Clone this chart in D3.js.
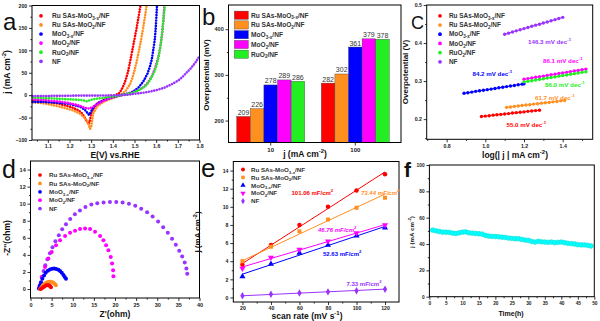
<!DOCTYPE html>
<html><head><meta charset="utf-8">
<script src="https://cdn.jsdelivr.net/npm/d3@7"></script>
<style>body{margin:0;background:#fff;} svg{display:block;font-family:Arial,"Liberation Sans",sans-serif;}</style>
</head><body><svg id="chart" width="600" height="321"></svg>
<script>
// ---------------- DATA ----------------
const names6 = ["Ru SAs-MoO_{3-x}/NF","Ru SAs-MoO_{2}/NF","MoO_{3-x}/NF","MoO_{2}/NF","RuO_{2}/NF","NF"];
const names5 = ["Ru SAs-MoO_{3-x}/NF","Ru SAs-MoO_{2}/NF","MoO_{3-x}/NF","MoO_{2}/NF","NF"];
const colors6 = ["#ff0000","#ff8f1f","#0000ff","#ff00ff","#22ee22","#9933ff"];
const colors5 = ["#ff0000","#ff8f1f","#0000ff","#ff00ff","#9933ff"];

// (a) LSV curves [E vs RHE, j]
const aRed = [[1.03,-12],[1.06,-13],[1.09,-15],[1.12,-17],[1.15,-19],[1.18,-23],[1.21,-27],[1.23,-31],[1.25,-37],[1.26,-42],[1.27,-50],[1.28,-58],[1.29,-64],[1.295,-55],[1.30,-42],[1.31,-30],[1.33,-18],[1.36,-10],[1.39,-5],[1.41,-1],[1.43,5],[1.44,12],[1.45,22],[1.46,35],[1.47,52],[1.48,75],[1.49,100],[1.50,125],[1.51,150],[1.52,178],[1.528,200]];
const aOrange = [[1.03,-16],[1.06,-17],[1.09,-19],[1.12,-22],[1.15,-25],[1.18,-29],[1.21,-33],[1.23,-37],[1.25,-42],[1.27,-50],[1.28,-58],[1.29,-68],[1.295,-75],[1.30,-72],[1.305,-55],[1.31,-40],[1.33,-24],[1.36,-14],[1.39,-8],[1.42,-3],[1.44,2],[1.46,10],[1.48,25],[1.49,38],[1.50,55],[1.51,75],[1.52,98],[1.53,122],[1.54,150],[1.55,180],[1.556,200]];
const aBlue = [[1.03,-15],[1.07,-15],[1.11,-16],[1.15,-17],[1.19,-19],[1.22,-22],[1.25,-26],[1.27,-32],[1.28,-38],[1.29,-44],[1.30,-36],[1.31,-27],[1.33,-18],[1.36,-11],[1.39,-6],[1.42,-2],[1.45,1],[1.48,5],[1.50,10],[1.52,18],[1.54,30],[1.56,48],[1.57,62],[1.58,80],[1.588,105],[1.594,125],[1.598,150],[1.601,175],[1.604,200]];
const aMagenta = [[1.03,-9],[1.07,-10],[1.11,-12],[1.15,-14],[1.19,-17],[1.22,-20],[1.25,-24],[1.27,-28],[1.29,-30],[1.31,-26],[1.33,-19],[1.36,-12],[1.39,-6],[1.42,-2],[1.45,1],[1.48,4],[1.51,9],[1.54,17],[1.56,27],[1.58,42],[1.595,60],[1.61,85],[1.62,110],[1.627,135],[1.633,165],[1.638,200]];
const aGreen = [[1.03,-5],[1.07,-6],[1.11,-7],[1.15,-8],[1.19,-9],[1.23,-10],[1.26,-11],[1.28,-14],[1.29,-12],[1.31,-9],[1.34,-7],[1.37,-5],[1.40,-3],[1.43,-1],[1.46,2],[1.49,5],[1.52,11],[1.55,20],[1.57,32],[1.59,50],[1.605,72],[1.615,95],[1.623,120],[1.63,150],[1.635,175],[1.64,200]];
const aPurple = [[1.03,-2],[1.08,-2],[1.13,-1.5],[1.18,-1.5],[1.23,-1],[1.28,-1],[1.33,-1],[1.38,-0.5],[1.43,0],[1.47,1],[1.50,3],[1.55,6],[1.60,11],[1.64,17],[1.67,24],[1.70,32],[1.72,40],[1.74,50],[1.76,60],[1.78,72],[1.80,87]];

// (b) overpotentials (mV)
const bGroups = ["10","100"];
const bEta10 = [209,226,278,289,286];
const bEta100 = [282,302,361,379,378];

// (c) Tafel [log j, overpotential V]
const cRed = [[0.98,0.207],[1.00,0.208],[1.02,0.209],[1.04,0.2105],[1.06,0.2115],[1.08,0.2125],[1.10,0.2135],[1.12,0.2145],[1.14,0.216],[1.16,0.217],[1.18,0.218],[1.20,0.219],[1.22,0.2205],[1.24,0.2215],[1.26,0.2225],[1.28,0.2235]];
const cOrange = [[1.11,0.231],[1.13,0.232],[1.15,0.2335],[1.17,0.2345],[1.19,0.236],[1.21,0.237],[1.23,0.238],[1.25,0.2395],[1.27,0.2405],[1.29,0.242],[1.31,0.243],[1.33,0.244],[1.35,0.2455],[1.37,0.2465],[1.39,0.248],[1.41,0.249]];
const cBlue = [[0.89,0.268],[0.91,0.2695],[0.93,0.271],[0.95,0.273],[0.97,0.2745],[0.99,0.276],[1.01,0.2775],[1.03,0.279],[1.05,0.2805],[1.07,0.2825],[1.09,0.284],[1.11,0.2855],[1.13,0.287],[1.15,0.2885],[1.17,0.2905],[1.19,0.292],[1.20,0.293]];
const cMagenta = [[1.20,0.305],[1.22,0.3065],[1.24,0.308],[1.26,0.31],[1.28,0.3115],[1.30,0.313],[1.32,0.315],[1.34,0.3165],[1.36,0.318],[1.38,0.32],[1.40,0.3215],[1.42,0.323],[1.44,0.325],[1.46,0.3265],[1.48,0.328],[1.50,0.33],[1.52,0.3315]];
const cGreen = [[1.20,0.298],[1.22,0.2995],[1.24,0.301],[1.26,0.303],[1.28,0.3045],[1.30,0.306],[1.32,0.308],[1.34,0.3095],[1.36,0.311],[1.38,0.313],[1.40,0.3145],[1.42,0.316],[1.44,0.318],[1.46,0.3195],[1.48,0.321],[1.50,0.323],[1.52,0.3245]];
const cPurple = [[1.10,0.423],[1.12,0.426],[1.14,0.429],[1.16,0.432],[1.18,0.435],[1.20,0.438],[1.22,0.441],[1.24,0.444],[1.26,0.447],[1.28,0.4495],[1.30,0.4525],[1.32,0.4555],[1.34,0.4585],[1.36,0.4615],[1.38,0.4645],[1.40,0.4675]];
const cSlopes = ["55.0","61.7","84.2","86.1","86.0","146.3"];

// (d) Nyquist [Z', -Z'']
const dRed = [[2.4,0.0],[2.7,0.1],[3.0,0.2],[3.3,0.3],[3.6,0.4],[3.9,0.45],[4.2,0.45],[4.5,0.4],[4.7,0.3],[4.85,0.2]];
const dOrange = [[2.3,0.0],[2.6,0.2],[2.9,0.4],[3.2,0.55],[3.6,0.7],[4.0,0.8],[4.4,0.85],[4.8,0.85],[5.2,0.8],[5.5,0.7],[5.8,0.55],[6.0,0.45]];
const dBlue = [[2.0,0.05],[2.2,0.4],[2.5,0.8],[2.8,1.2],[3.2,1.6],[3.6,1.9],[4.1,2.15],[4.6,2.3],[5.1,2.38],[5.6,2.4],[6.1,2.35],[6.6,2.25],[7.0,2.1],[7.4,1.9],[7.8,1.65],[8.1,1.4],[8.4,1.2]];
const dMagenta = [[2.09,0.24],[2.65,1.41],[3.44,2.59],[4.23,3.57],[5.02,4.35],[6.04,5.14],[6.99,5.73],[8.18,6.2],[9.36,6.59],[10.55,6.82],[11.73,7.02],[12.91,7.1],[14.1,7.02],[15.28,6.71],[16.47,6.2],[17.26,5.73],[17.89,5.14],[18.44,4.55],[19.0,3.76],[19.31,2.98],[19.55,2.2],[19.63,1.49]];
const dPurple = [[2.1,0.05],[2.4,0.7],[2.7,1.4],[3.1,2.1],[3.5,2.8],[4.0,3.5],[4.6,4.2],[5.2,4.9],[5.9,5.6],[6.7,6.3],[7.5,7.0],[8.4,7.6],[9.4,8.2],[10.5,8.75],[11.7,9.2],[13.0,9.6],[14.4,9.9],[15.8,10.05],[17.3,10.15],[18.8,10.2],[20.3,10.2],[21.8,10.15],[23.3,10.0],[24.8,9.75],[26.2,9.4],[27.6,9.0],[28.9,8.5],[30.2,7.9],[31.4,7.25],[32.5,6.6],[33.5,5.9],[34.4,5.2],[35.2,4.5],[35.9,3.8],[36.5,3.1],[36.9,2.4],[37.1,1.8]];

// (e) Cdl
const eScan = [20,40,60,80,100,120];
const eRed = [3.6,5.8,8.0,10.0,11.8,13.6];
const eOrange = [4.0,5.6,7.3,8.6,9.9,11.0];
const eBlue = [2.3,3.7,4.9,5.8,6.8,7.7];
const eMagenta = [3.2,4.4,5.3,6.2,7.1,8.0];
const ePurple = [0.2,0.35,0.5,0.62,0.75,0.9];
const eCdl = [101.06,73.44,52.63,46.76,7.33];

// (f) stability
const fTime = [1,2,3,4,5,6,7,8,9,10,11,12,13,14,15,16,17,18,19,20,21,22,23,24,25,26,27,28,29,30,31,32,33,34,35,36,37,38,39,40,41,42,43,44,45,46,47,48,49];
const fJ = [50.5,50,49.5,49,49,48.8,48.3,48,48.5,49,49.2,48.5,48.2,48,47.8,47.5,46.5,46,45.8,45.7,45.5,45.2,45,44.5,44.3,44,44,43.5,43,42.8,42,41.5,42,41.7,41.5,41.3,41.5,41,41.3,41.5,41,40.5,40.3,40,39.5,39.3,39.3,39,38.5];

// ---------------- HELPERS ----------------
const svg = d3.select("#chart");
const FONT = 'Arial, "Liberation Sans", sans-serif';

function rich(sel, str, fs) {
  const re = /([_^])\{([^}]*)\}/g;
  let last = 0, m; const parts = [];
  while ((m = re.exec(str))) {
    if (m.index > last) parts.push({t: str.slice(last, m.index), k: 0});
    parts.push({t: m[2], k: m[1] === "_" ? 1 : -1});
    last = re.lastIndex;
  }
  if (last < str.length) parts.push({t: str.slice(last), k: 0});
  let cur = 0;
  parts.forEach(p => {
    const target = p.k === 1 ? fs * 0.3 : p.k === -1 ? -fs * 0.42 : 0;
    const ts = sel.append("tspan").text(p.t).attr("dy", (target - cur).toFixed(2));
    if (p.k) ts.attr("font-size", (fs * 0.7).toFixed(2));
    cur = target;
  });
  return sel;
}
function label(g, x, y, str, o) {
  o = o || {};
  const fs = o.fs || 8;
  const t = g.append("text").attr("x", x).attr("y", y)
    .attr("font-size", fs).attr("font-family", FONT)
    .attr("font-weight", o.fw || "bold").attr("fill", o.fill || "#111")
    .attr("text-anchor", o.anchor || "start");
  if (o.rot) t.attr("transform", `rotate(-90,${x},${y})`);
  if (o.italic) t.attr("font-style", "italic");
  rich(t, str, fs);
  return t;
}
function axes(g, x, y, box, o) {
  const {l, r, t, b} = box;
  const fs = o.fs || 5.5;
  const pad = o.pad == null ? 1.8 : o.pad;
  if (o.xm) g.append("g").attr("transform", `translate(0,${b})`).call(d3.axisBottom(x).tickValues(o.xm).tickSize(1.6).tickFormat(""));
  if (o.ym) g.append("g").attr("transform", `translate(${l},0)`).call(d3.axisLeft(y).tickValues(o.ym).tickSize(1.6).tickFormat(""));
  const xa = d3.axisBottom(x).tickSize(3).tickPadding(pad);
  if (o.xt) xa.tickValues(o.xt);
  if (o.xf) xa.tickFormat(o.xf);
  g.append("g").attr("transform", `translate(0,${b})`).call(xa);
  const ya = d3.axisLeft(y).tickValues(o.yt).tickSize(3).tickPadding(1.8);
  if (o.yf) ya.tickFormat(o.yf);
  g.append("g").attr("transform", `translate(${l},0)`).call(ya);
  g.selectAll(".domain").remove();
  g.selectAll(".tick line").attr("stroke", "#000").attr("stroke-width", 0.8);
  g.selectAll(".tick text").attr("font-size", fs).attr("font-weight", "bold")
    .attr("font-family", FONT).attr("fill", "#222");
  g.append("rect").attr("x", l).attr("y", t).attr("width", r - l).attr("height", b - t)
    .attr("fill", "none").attr("stroke", "#000").attr("stroke-width", 1);
}
function legend(g, names, colors, syms, x, y0, dy, fs, tx) {
  names.forEach((n, i) => {
    const y = y0 + i * dy;
    g.append("path").attr("d", d3.symbol().type(syms[i]).size(11)())
      .attr("transform", `translate(${x},${y})`).attr("fill", colors[i]);
    label(g, x + tx, y + fs * 0.35, n, {fs: fs, fill: "#333"});
  });
}

// ---------------- PANEL A ----------------
{
  const box = {l: 32, r: 199.5, t: 5.5, b: 140};
  const g = svg.append("g");
  const x = d3.scaleLinear().domain([1.027, 1.8]).range([box.l, box.r]);
  const y = d3.scaleLinear().domain([-100, 200]).range([box.b, box.t]);
  const line = d3.line().x(d => x(d[0])).y(d => y(d[1]));
  const series = [aRed, aOrange, aBlue, aMagenta, aGreen, aPurple];
  series.forEach((s, i) => {
    g.append("path").attr("d", line(s)).attr("fill", "none").attr("stroke", colors6[i])
      .attr("stroke-width", 2.6).attr("stroke-linecap", "round").attr("stroke-dasharray", "0.01 2.7");
  });
  axes(g, x, y, box, {xt: [1.1,1.2,1.3,1.4,1.5,1.6,1.7,1.8], xf: d3.format(".1f"),
    xm: [1.05,1.15,1.25,1.35,1.45,1.55,1.65,1.75], yt: [-100,-50,0,50,100,150,200],
    ym: [-75,-25,25,75,125,175], fs: 5.2});
  legend(g, names6, colors6, Array(6).fill(d3.symbolCircle), 41, 15.8, 9.1, 6.6, 11);
  label(g, 115, 158, "E(V) vs.RHE", {fs: 8.5, anchor: "middle"});
  label(g, 10, 72, "j (mA cm^{-2})", {fs: 8.5, anchor: "middle", rot: true});
  label(g, 3, 30, "a", {fs: 24, fw: "normal"});
}

// ---------------- PANEL B ----------------
{
  const box = {l: 228.5, r: 401, t: 5, b: 142.5};
  const g = svg.append("g");
  const x0 = d3.scaleBand().domain(bGroups).range([236.7, 389.3]).paddingInner(0.196);
  const x1 = d3.scaleBand().domain(d3.range(5)).range([0, x0.bandwidth()]);
  const y = d3.scaleLinear().domain([152, 453]).range([box.b, box.t]);
  [bEta10, bEta100].forEach((vals, gi) => {
    vals.forEach((v, i) => {
      const bx = x0(bGroups[gi]) + x1(i);
      g.append("rect").attr("x", bx).attr("y", y(v)).attr("width", x1.bandwidth())
        .attr("height", box.b - y(v)).attr("fill", colors6[i]).attr("stroke", "#444").attr("stroke-width", 0.4);
      g.append("text").attr("x", bx + x1.bandwidth() / 2).attr("y", y(v) - 1.5)
        .attr("text-anchor", "middle").attr("font-size", 7).attr("font-family", FONT)
        .attr("fill", "#333").text(v);
    });
  });
  axes(g, x0, y, box, {yt: [200, 300, 400], ym: [250, 350], fs: 5.5});
  g.selectAll(".tick text").filter(function(){return this.textContent==="10"||this.textContent==="100";}).attr("font-size", 6);
  names6.slice(0, 5).forEach((n, i) => {
    const yc = 15.2 + i * 9.75;
    g.append("rect").attr("x", 234.3).attr("y", yc - 4.1).attr("width", 14).attr("height", 8.2)
      .attr("fill", colors6[i]).attr("stroke", "#444").attr("stroke-width", 0.4);
    label(g, 251, yc + 2.3, n, {fs: 6.6, fill: "#333"});
  });
  label(g, 305, 157, "j (mA cm^{-2})", {fs: 8.5, anchor: "middle"});
  label(g, 209, 75, "Overpotential (mV)", {fs: 8, anchor: "middle", rot: true});
  label(g, 202, 25, "b", {fs: 24, fw: "normal"});
}

// ---------------- PANEL C ----------------
{
  const box = {l: 426.7, r: 592.7, t: 5, b: 139.3};
  const g = svg.append("g");
  const x = d3.scaleLinear().domain([0.697, 1.555]).range([box.l, box.r]);
  const y = d3.scaleLinear().domain([0.147, 0.5]).range([box.b, box.t]);
  const line = d3.line().x(d => x(d[0])).y(d => y(d[1]));
  const series = [cRed, cOrange, cBlue, cMagenta, cGreen, cPurple];
  series.forEach((s, i) => {
    g.append("path").attr("d", line(s)).attr("fill", "none").attr("stroke", colors6[i]).attr("stroke-width", 1);
    g.selectAll(null).data(s).enter().append("circle").attr("cx", d => x(d[0])).attr("cy", d => y(d[1]))
      .attr("r", 1.7).attr("fill", colors6[i]);
  });
  axes(g, x, y, box, {xt: [0.8,1.0,1.2,1.4], xf: d3.format(".1f"), xm: [0.7,0.9,1.1,1.3,1.5],
    yt: [0.2,0.3,0.4,0.5], yf: d3.format(".1f"), ym: [0.15,0.25,0.35,0.45], fs: 5.2});
  legend(g, names6, colors6, Array(6).fill(d3.symbolCircle), 440, 15.8, 9.2, 6.4, 9);
  const ann = [[506.5,127],[535,100],[472.5,76],[543,63],[545,87],[528,44]];
  ann.forEach((p, i) => label(g, p[0], p[1], cSlopes[i] + " mV dec^{-1}", {fs: 6.2, fill: colors6[i]}));
  label(g, 515, 158, "log(| j | mA cm^{-2})", {fs: 8.5, anchor: "middle"});
  label(g, 408, 72, "Overpotential (V)", {fs: 8, anchor: "middle", rot: true});
  label(g, 411, 29, "C", {fs: 18, fw: "normal"});
}

// ---------------- PANEL D ----------------
{
  const box = {l: 30.5, r: 199.5, t: 161, b: 298};
  const g = svg.append("g");
  const x = d3.scaleLinear().domain([0, 40]).range([box.l, box.r]);
  const y = d3.scaleLinear().domain([-1.05, 15]).range([box.b, box.t]);
  const series = [dPurple, dMagenta, dBlue, dOrange, dRed];
  const cols = [colors5[4], colors5[3], colors5[2], colors5[1], colors5[0]];
  series.forEach((s, i) => {
    g.selectAll(null).data(s).enter().append("circle").attr("cx", d => x(d[0])).attr("cy", d => y(d[1]))
      .attr("r", 2).attr("fill", cols[i]);
  });
  axes(g, x, y, box, {xt: d3.range(0, 41, 5), xm: d3.range(2.5, 40, 5), yt: d3.range(0, 15, 2), ym: d3.range(1, 15, 2), fs: 5.5});
  legend(g, names5, colors5, Array(5).fill(d3.symbolCircle), 40, 175, 8.4, 6.2, 9);
  label(g, 115, 317, "Z'(ohm)", {fs: 8.5, anchor: "middle"});
  label(g, 10, 238, "-Z''(ohm)", {fs: 8.5, anchor: "middle", rot: true});
  label(g, 2, 178, "d", {fs: 25, fw: "normal"});
}

// ---------------- PANEL E ----------------
{
  const box = {l: 233.3, r: 399, t: 161.5, b: 302};
  const g = svg.append("g");
  const x = d3.scaleLinear().domain([13.6, 129.8]).range([box.l, box.r]);
  const y = d3.scaleLinear().domain([-0.5, 15]).range([box.b, box.t]);
  const series = [eRed, eOrange, eBlue, eMagenta, ePurple];
  const syms = [d3.symbolCircle, d3.symbolSquare, d3.symbolTriangle, d3.symbolTriangle, d3.symbolDiamond];
  series.forEach((s, i) => {
    const mx = d3.mean(eScan), my = d3.mean(s), k = eCdl[i] / 1000;
    const b0 = my - k * mx;
    const ends = [eScan[0], eScan[eScan.length - 1]];
    g.append("line").attr("x1", x(ends[0])).attr("y1", y(b0 + k * ends[0]))
      .attr("x2", x(ends[1])).attr("y2", y(b0 + k * ends[1]))
      .attr("stroke", colors5[i]).attr("stroke-width", 1);
    s.forEach((v, j) => {
      g.append("path").attr("d", d3.symbol().type(syms[i]).size(16)())
        .attr("transform", `translate(${x(eScan[j])},${y(v)})${i === 3 ? " rotate(180)" : ""}`)
        .attr("fill", colors5[i]);
    });
  });
  axes(g, x, y, box, {xt: eScan, xm: [30,50,70,90,110], yt: d3.range(0, 15, 2), ym: d3.range(1, 15, 2), fs: 5.2, pad: 1.2});
  names5.forEach((n, i) => {
    const yy = 169.5 + i * 7.9;
    g.append("path").attr("d", d3.symbol().type(syms[i]).size(12)())
      .attr("transform", `translate(243,${yy})${i === 3 ? " rotate(180)" : ""}`).attr("fill", colors5[i]);
    label(g, 251, yy + 2.2, n, {fs: 6.2, fill: "#333"});
  });
  const ann = [[291.5,195],[361,195],[323,256],[318,232],[346.5,286]];
  ann.forEach((p, i) => label(g, p[0], p[1], eCdl[i].toFixed(2) + " mF/cm^{2}", {fs: 6, fill: colors5[i], italic: i === 1 || i === 3}));
  label(g, 307, 318.5, "scan rate (mV s^{-1})", {fs: 8.5, anchor: "middle"});
  label(g, 200, 232, "j (mA cm^{-2})", {fs: 8, anchor: "middle", rot: true});
  label(g, 201, 177, "e", {fs: 26, fw: "normal"});
}

// ---------------- PANEL F ----------------
{
  const box = {l: 429.4, r: 594.3, t: 165, b: 296.7};
  const g = svg.append("g");
  const x = d3.scaleLinear().domain([0, 50]).range([box.l, box.r]);
  const y = d3.scaleLinear().domain([0, 100]).range([box.b, box.t]);
  g.selectAll(null).data(fTime).enter().append("circle")
    .attr("cx", d => x(d)).attr("cy", (d, i) => y(fJ[i])).attr("r", 2.4)
    .attr("fill", "#00ffff").attr("stroke", "#22d8d8").attr("stroke-width", 0.6);
  axes(g, x, y, box, {xt: d3.range(0, 51, 5), xm: d3.range(2.5, 50, 5), yt: d3.range(0, 101, 20), ym: d3.range(10, 100, 20), fs: 4.8});
  label(g, 511, 316, "Time(h)", {fs: 7, anchor: "middle"});
  label(g, 414, 232, "j (mA cm^{-2})", {fs: 6.2, anchor: "middle", rot: true});
  label(g, 404, 177, "f", {fs: 21, fw: "bold"});
}
</script></body></html>
